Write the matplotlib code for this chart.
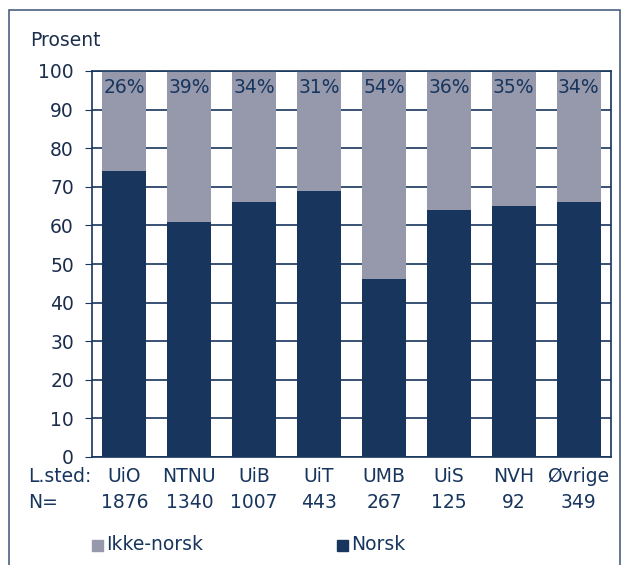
import matplotlib.pyplot as plt
from matplotlib.patches import Rectangle
import numpy as np

# data
steder = ['UiO', 'NTNU', 'UiB', 'UiT', 'UMB', 'UiS', 'NVH', 'Øvrige']
antall = ['1876', '1340', '1007', '443', '267', '125', '92', '349']
norsk = [74, 61, 66, 69, 46, 64, 65, 66]
ikke_norsk = [26, 39, 34, 31, 54, 36, 35, 34]

navy = '#17355d'
grey = '#9698ab'
txt = '#1c2e4c'
fs = 13.5
plt.rcParams['font.family'] = 'DejaVu Sans'

fig = plt.figure(figsize=(6.23, 5.65), dpi=100)
ax = fig.add_axes([92/623, 1-457/565, (611-92)/623, (457-71)/565])

x = np.arange(len(steder))
ax.bar(x, norsk, width=0.68, color=navy, zorder=2)
ax.bar(x, ikke_norsk, bottom=norsk, width=0.68, color=grey, zorder=2)

for i, v in enumerate(ikke_norsk):
    ax.text(x[i], 95.6, f'{v}%', ha='center', va='center', fontsize=fs, color=navy, zorder=3)

ax.set_ylim(0, 100)
ax.set_xlim(-0.5, len(steder)-0.5)
ax.set_yticks(range(0, 101, 10))
ax.yaxis.grid(True, color=navy, linewidth=1.2, zorder=1)
ax.set_xticks([])
ax.tick_params(axis='y', direction='out', length=5, color=navy, labelsize=fs, labelcolor=txt, pad=8)
for s in ax.spines.values():
    s.set_color(navy)
    s.set_linewidth(1.2)

# frame around the figure
fig.patches.append(Rectangle((9/623, -0.1), (620-9)/623, 1.1-10/565, transform=fig.transFigure,
                             fill=False, edgecolor='#4a6080', linewidth=1.2))

fig.text(30/623, 1-40/565, 'Prosent', fontsize=fs, color=txt, va='center')

# category labels and N
fig.text(28/623, 1-477/565, 'L.sted:', fontsize=fs, color=navy, va='center')
fig.text(28/623, 1-503/565, 'N=', fontsize=fs, color=navy, va='center')
for i in range(len(steder)):
    xf = ax.transData.transform((x[i], 0))[0] / fig.bbox.width
    fig.text(xf, 1-477/565, steder[i], fontsize=fs, color=navy, ha='center', va='center')
    fig.text(xf, 1-503/565, antall[i], fontsize=fs, color=navy, ha='center', va='center')

# legend
fig.patches.append(Rectangle((92/623, 1-551/565), 11/623, 11/565, transform=fig.transFigure, color=grey))
fig.text(106/623, 1-545/565, 'Ikke-norsk', fontsize=fs, color=navy, va='center')
fig.patches.append(Rectangle((337/623, 1-551/565), 11/623, 11/565, transform=fig.transFigure, color=navy))
fig.text(351/623, 1-545/565, 'Norsk', fontsize=fs, color=navy, va='center')

fig.savefig('out.png', dpi=100)
